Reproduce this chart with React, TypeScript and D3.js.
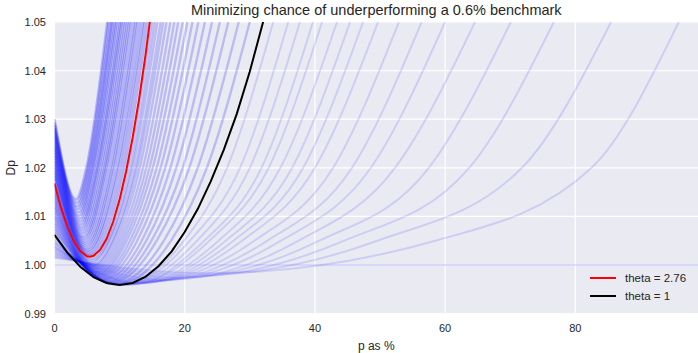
import React, { useRef, useEffect } from "react";
import * as d3 from "d3";

const W = 698;
const H = 353;

const xTicks = [0, 20, 40, 60, 80];
const yTicks = [0.99, 1.0, 1.01, 1.02, 1.03, 1.04, 1.05];

// highlighted curves, read at whole percent steps
const redP = [0, 1, 2, 3, 4, 5, 5.5, 6, 7, 8, 9, 10, 11, 12, 13, 14, 15];
const redDp = [1.0168, 1.0118, 1.0078, 1.0048, 1.0028, 1.0018, 1.0017, 1.0019, 1.0031, 1.0054, 1.0089, 1.0135, 1.0193, 1.0262, 1.0342, 1.0434, 1.0537];
const blackP = [0, 2, 4, 6, 8, 10, 12, 14, 16, 18, 20, 22, 24, 26, 28, 30, 32, 33];
const blackDp = [1.0062, 1.0025, 0.9996, 0.9975, 0.9963, 0.9959, 0.9963, 0.9976, 0.9998, 1.0028, 1.0068, 1.0115, 1.0172, 1.0237, 1.0311, 1.0398, 1.0498, 1.055];

// faint blue family: value at p=0, the minimum, and where each curve climbs
// back through 1.005, 1.02 and the top of the plot (1.05)
// first 17 = curves right of black, next 19 = between black and red, last 22 = left of red
const blueStart = [
  1.0015, 1.0017, 1.002, 1.0022, 1.0025, 1.0027, 1.003, 1.0032, 1.0035, 1.0037, 1.0039, 1.0042, 1.0045, 1.0047, 1.005, 1.0053, 1.0058,
  1.0067, 1.0073, 1.0078, 1.0084, 1.0089, 1.0095, 1.01, 1.0106, 1.0111, 1.0117, 1.0122, 1.0127, 1.0133, 1.0138, 1.0144, 1.0149, 1.0155, 1.016, 1.0166,
  1.0177, 1.0183, 1.0189, 1.0194, 1.02, 1.0206, 1.0212, 1.0218, 1.0224, 1.023, 1.0236, 1.0241, 1.0247, 1.0253, 1.0259, 1.0265, 1.0271, 1.0277, 1.0282, 1.0288, 1.0294, 1.03,
];
const blueMinP = [
  23.5, 21.5, 19.8, 18.5, 17.3, 16.4, 15.5, 14.8, 14.1, 13.6, 13.1, 12.7, 12.2, 11.8, 11.3, 10.9, 10.4,
  9.5, 9.1, 8.7, 8.4, 8.1, 7.8, 7.5, 7.3, 7.1, 6.9, 6.7, 6.5, 6.4, 6.2, 6.1, 6.0, 5.8, 5.7, 5.6,
  5.35, 5.25, 5.16, 5.06, 4.96, 4.86, 4.77, 4.67, 4.57, 4.47, 4.38, 4.28, 4.18, 4.08, 3.98, 3.89, 3.79, 3.69, 3.59, 3.5, 3.4, 3.3,
];
const blueMinDp = [
  0.9983, 0.9979, 0.9975, 0.9973, 0.997, 0.9969, 0.9967, 0.9966, 0.9964, 0.9963, 0.9962, 0.9962, 0.9961, 0.996, 0.996, 0.9959, 0.9959,
  0.996, 0.9961, 0.9963, 0.9965, 0.9967, 0.997, 0.9972, 0.9975, 0.9978, 0.9981, 0.9984, 0.9987, 0.9991, 0.9994, 0.9998, 1.0001, 1.0005, 1.0009, 1.0013,
  1.0019, 1.0022, 1.0026, 1.003, 1.0034, 1.0039, 1.0044, 1.0049, 1.0054, 1.0059, 1.0065, 1.0071, 1.0077, 1.0083, 1.0089, 1.0095, 1.0101, 1.0108, 1.0115, 1.0121, 1.0128, 1.0135,
];
const blueP005 = [
  58.5, 49.6, 44.5, 40.7, 37.5, 34.8, 32.7, 30.7, 28.8, 27.5, 26.3, 25.2, 23.8, 23.0, 21.9, 20.8, 19.9,
  17.9, 16.8, 15.7, 14.9, 14.1, 13.4, 12.7, 12.1, 11.6, 11.1, 10.7, 10.3, 9.9, 9.5, 9.1, 8.9, 8.5, 8.3, 8.0,
  null, null, null, null, null, null, null, null, null, null, null, null, null, null, null, null, null, null, null, null, null, null,
];
const blueP02 = [
  82.5, 71.8, 63.7, 57.5, 52.3, 48.6, 45.7, 42.8, 40.0, 38.2, 36.5, 34.7, 32.9, 31.8, 30.0, 28.5, 26.5,
  23.4, 22.0, 20.7, 19.7, 18.7, 17.8, 17.0, 16.3, 15.7, 15.1, 14.6, 14.1, 13.6, 13.1, 12.7, 12.4, 12.0, 11.7, 11.3,
  10.7, 10.3, 9.9, 9.6, 9.2, 8.9, 8.6, 8.2, 7.9, 7.7, 7.4, 7.1, 6.8, 6.6, 6.4, 6.1, 5.9, 5.7, 5.5, 5.3, 5.1, 4.9,
];
const blueTop = [
  95.9, 85.5, 76.7, 70.1, 64.6, 60.0, 56.4, 52.9, 49.7, 47.4, 45.4, 43.4, 41.1, 39.7, 37.7, 35.9, 33.6,
  30.0, 28.3, 26.7, 25.4, 24.2, 23.1, 22.1, 21.2, 20.4, 19.7, 19.0, 18.4, 17.8, 17.2, 16.7, 16.3, 15.8, 15.4, 15.0,
  14.3, 13.9, 13.6, 13.2, 12.8, 12.5, 12.2, 11.8, 11.5, 11.2, 10.9, 10.6, 10.3, 10.1, 9.8, 9.5, 9.3, 9.0, 8.8, 8.6, 8.3, 8.1,
];
const flatP = [0, 99];
const flatDp = [1.0, 1.0];

const legendLabels = ["theta = 2.76", "theta = 1"];

function App() {
  const svgRef = useRef(null);

  useEffect(() => {
    const svg = d3.select(svgRef.current);
    svg.selectAll("*").remove();

    const left = 54.5, right = 699, top = 22, bottom = 313.6;
    const x = d3.scaleLinear().domain([0, 99]).range([left, right]);
    const y = d3.scaleLinear().domain([0.99, 1.05]).range([bottom, top]);
    const font = "'Liberation Sans', Arial, sans-serif";

    svg.append("rect")
      .attr("x", left).attr("y", top)
      .attr("width", right - left).attr("height", bottom - top)
      .attr("fill", "#eaeaf2");

    svg.append("defs").append("clipPath").attr("id", "plotClip")
      .append("rect")
      .attr("x", left).attr("y", top)
      .attr("width", right - left).attr("height", bottom - top);

    // grid
    const grid = svg.append("g");
    grid.selectAll(".gx").data(xTicks).join("line")
      .attr("x1", (d) => x(d)).attr("x2", (d) => x(d))
      .attr("y1", top).attr("y2", bottom)
      .attr("stroke", "white").attr("stroke-width", 1.2);
    grid.selectAll(".gy").data(yTicks).join("line")
      .attr("class", "gy")
      .attr("x1", left).attr("x2", right)
      .attr("y1", (d) => y(d)).attr("y2", (d) => y(d))
      .attr("stroke", "white").attr("stroke-width", 1.2);

    const content = svg.append("g").attr("clip-path", "url(#plotClip)");

    const smooth = d3.line()
      .x((d) => x(d[0]))
      .y((d) => y(d[1]))
      .curve(d3.curveMonotoneX);
    const straight = d3.line()
      .x((d) => x(d[0]))
      .y((d) => y(d[1]));

    const blueCurves = blueStart.map((s, i) => {
      const pts = [[0, s], [blueMinP[i], blueMinDp[i]]];
      if (blueP005[i] != null) pts.push([blueP005[i], 1.005]);
      pts.push([blueP02[i], 1.02]);
      pts.push([blueTop[i], 1.05]);
      return pts;
    });

    content.append("path")
      .attr("d", straight(flatP.map((p, i) => [p, flatDp[i]])))
      .attr("fill", "none").attr("stroke", "blue")
      .attr("stroke-opacity", 0.12).attr("stroke-width", 2);

    // denser groups get a heavier stroke so the band fills in like the original
    content.selectAll(".blue").data(blueCurves).join("path")
      .attr("class", "blue")
      .attr("d", smooth)
      .attr("fill", "none")
      .attr("stroke", "blue")
      .attr("stroke-width", (d, i) => (i < 17 ? 2 : i < 36 ? 2.4 : 2.6))
      .attr("stroke-opacity", (d, i) => (i < 17 ? 0.12 : i < 36 ? 0.2 : 0.24));

    content.append("path")
      .attr("d", straight(redP.map((p, i) => [p, redDp[i]])))
      .attr("fill", "none").attr("stroke", "red").attr("stroke-width", 2);
    content.append("path")
      .attr("d", straight(blackP.map((p, i) => [p, blackDp[i]])))
      .attr("fill", "none").attr("stroke", "black").attr("stroke-width", 2);

    // tick labels
    svg.selectAll(".xt").data(xTicks).join("text")
      .attr("class", "xt")
      .attr("x", (d) => x(d)).attr("y", 332)
      .attr("text-anchor", "middle")
      .attr("font-family", font).attr("font-size", 11)
      .attr("fill", "#262626")
      .text((d) => d);
    svg.selectAll(".yt").data(yTicks).join("text")
      .attr("class", "yt")
      .attr("x", 46).attr("y", (d) => y(d) + 4)
      .attr("text-anchor", "end")
      .attr("font-family", font).attr("font-size", 11)
      .attr("fill", "#262626")
      .text((d) => d3.format(".2f")(d));

    svg.append("text")
      .attr("x", (left + 698) / 2).attr("y", 350)
      .attr("text-anchor", "middle")
      .attr("font-family", font).attr("font-size", 12)
      .attr("fill", "#262626")
      .text("p as %");
    svg.append("text")
      .attr("transform", `translate(15, ${(top + bottom) / 2}) rotate(-90)`)
      .attr("text-anchor", "middle")
      .attr("font-family", font).attr("font-size", 12)
      .attr("fill", "#262626")
      .text("Dp");
    svg.append("text")
      .attr("x", (left + 698) / 2).attr("y", 15)
      .attr("text-anchor", "middle")
      .attr("font-family", font).attr("font-size", 14.5)
      .attr("fill", "#262626")
      .text("Minimizing chance of underperforming a 0.6% benchmark");

    // legend
    const legendColors = ["red", "black"];
    const lg = svg.append("g");
    legendLabels.forEach((lab, i) => {
      const ly = 278 + i * 18;
      lg.append("line")
        .attr("x1", 590).attr("x2", 616).attr("y1", ly).attr("y2", ly)
        .attr("stroke", legendColors[i]).attr("stroke-width", 2);
      lg.append("text")
        .attr("x", 625).attr("y", ly + 4)
        .attr("font-family", font).attr("font-size", 11.5)
        .attr("fill", "#262626")
        .text(lab);
    });
  }, []);

  return (
    <svg
      ref={svgRef}
      width={W}
      height={H}
      style={{ position: "absolute", left: 0, top: 0, background: "white" }}
    />
  );
}

export default App;
